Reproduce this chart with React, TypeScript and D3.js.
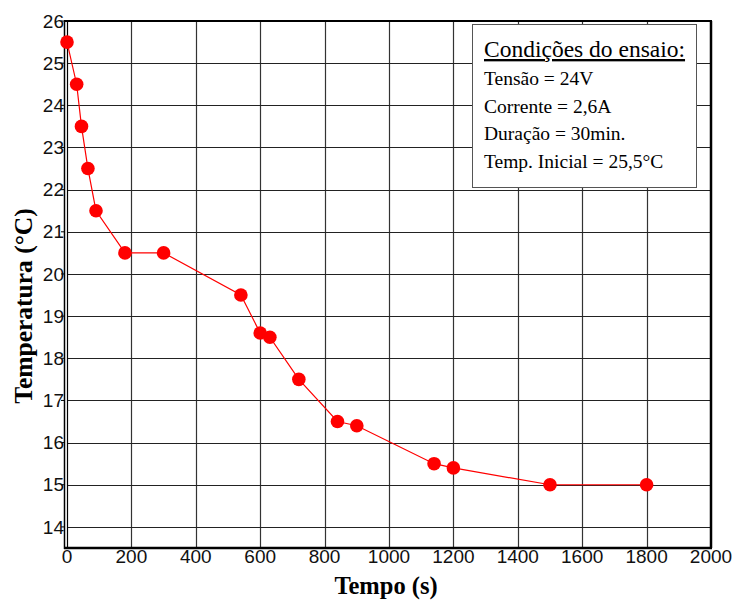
import React, { useRef, useEffect } from 'react';
import * as d3 from 'd3';

const tempo = [0, 30, 45, 65, 90, 180, 300, 540, 600, 630, 720, 840, 900, 1140, 1200, 1500, 1800];
const temperatura = [25.5, 24.5, 23.5, 22.5, 21.5, 20.5, 20.5, 19.5, 18.6, 18.5, 17.5, 16.5, 16.4, 15.5, 15.4, 15, 15];
const xTicks = [0, 200, 400, 600, 800, 1000, 1200, 1400, 1600, 1800, 2000];
const yTicks = [14, 15, 16, 17, 18, 19, 20, 21, 22, 23, 24, 25, 26];
const legendTitle = 'Condições do ensaio:';
const legendLines = ['Tensão = 24V', 'Corrente = 2,6A', 'Duração = 30min.', 'Temp. Inicial = 25,5°C'];

const App = () => {
  const svgRef = useRef(null);

  useEffect(() => {
    const width = 733;
    const height = 602;
    const left = 67, right = 711, top = 21, bottom = 548;

    const svg = d3.select(svgRef.current)
      .attr('width', width)
      .attr('height', height)
      .style('background', '#fff');
    svg.selectAll('*').remove();

    const x = d3.scaleLinear().domain([0, 2000]).range([left, right]);
    const y = d3.scaleLinear().domain([13.5, 26]).range([bottom, top]);

    // grid
    svg.append('g')
      .selectAll('line')
      .data(xTicks.filter(t => t > 0 && t < 2000))
      .enter()
      .append('line')
      .attr('x1', d => Math.round(x(d)) + 0.5)
      .attr('x2', d => Math.round(x(d)) + 0.5)
      .attr('y1', top)
      .attr('y2', bottom)
      .attr('stroke', '#333')
      .attr('stroke-width', 1.2);

    svg.append('g')
      .selectAll('line')
      .data(yTicks.filter(t => t < 26))
      .enter()
      .append('line')
      .attr('x1', left)
      .attr('x2', right)
      .attr('y1', d => Math.round(y(d)) + 0.5)
      .attr('y2', d => Math.round(y(d)) + 0.5)
      .attr('stroke', '#222')
      .attr('stroke-width', 1.2);

    // frame
    svg.append('line')
      .attr('x1', left - 2.5).attr('x2', left - 2.5)
      .attr('y1', top).attr('y2', bottom + 1)
      .attr('stroke', '#000').attr('stroke-width', 1.5);
    svg.append('line')
      .attr('x1', left + 0.5).attr('x2', left + 0.5)
      .attr('y1', top).attr('y2', bottom)
      .attr('stroke', '#000').attr('stroke-width', 1.2);
    svg.append('line')
      .attr('x1', left - 3).attr('x2', right + 1)
      .attr('y1', bottom).attr('y2', bottom)
      .attr('stroke', '#000').attr('stroke-width', 2.5);
    svg.append('line')
      .attr('x1', right).attr('x2', right)
      .attr('y1', top).attr('y2', bottom)
      .attr('stroke', '#000').attr('stroke-width', 2.5);
    svg.append('line')
      .attr('x1', left - 3).attr('x2', right + 1)
      .attr('y1', top).attr('y2', top)
      .attr('stroke', '#000').attr('stroke-width', 2);

    // y ticks + labels
    const yAxis = svg.append('g');
    yAxis.selectAll('line')
      .data(yTicks)
      .enter()
      .append('line')
      .attr('x1', left - 6)
      .attr('x2', left - 2)
      .attr('y1', d => y(d))
      .attr('y2', d => y(d))
      .attr('stroke', '#000');
    yAxis.selectAll('text')
      .data(yTicks)
      .enter()
      .append('text')
      .attr('x', left - 3)
      .attr('y', d => y(d))
      .attr('dy', '0.35em')
      .attr('text-anchor', 'end')
      .style('font-family', '"Liberation Sans", Arial, sans-serif')
      .style('font-size', '19px')
      .style('fill', '#111')
      .text(d => d);

    // x labels
    svg.append('g')
      .selectAll('text')
      .data(xTicks)
      .enter()
      .append('text')
      .attr('x', d => x(d))
      .attr('y', bottom + 15)
      .attr('text-anchor', 'middle')
      .style('font-family', '"Liberation Sans", Arial, sans-serif')
      .style('font-size', '19px')
      .style('fill', '#111')
      .text(d => d);

    // axis titles
    svg.append('text')
      .attr('x', 386)
      .attr('y', 594)
      .attr('text-anchor', 'middle')
      .style('font-family', '"Liberation Serif", "Times New Roman", serif')
      .style('font-weight', 'bold')
      .style('font-size', '24.5px')
      .text('Tempo (s)');

    svg.append('text')
      .attr('transform', 'translate(32, 306) rotate(-90)')
      .attr('text-anchor', 'middle')
      .style('font-family', '"Liberation Serif", "Times New Roman", serif')
      .style('font-weight', 'bold')
      .style('font-size', '25.5px')
      .text('Temperatura (°C)');

    // data line + markers
    const pts = tempo.map((t, i) => [t, temperatura[i]]);
    const line = d3.line()
      .x(d => x(d[0]))
      .y(d => y(d[1]));

    svg.append('path')
      .datum(pts)
      .attr('d', line)
      .attr('fill', 'none')
      .attr('stroke', '#ff0000')
      .attr('stroke-width', 1.2);

    svg.append('g')
      .selectAll('circle')
      .data(pts)
      .enter()
      .append('circle')
      .attr('cx', d => x(d[0]))
      .attr('cy', d => y(d[1]))
      .attr('r', 6.8)
      .attr('fill', '#ff0000');

    // legend box
    const lg = svg.append('g');
    lg.append('rect')
      .attr('x', 472.5)
      .attr('y', 24.5)
      .attr('width', 224)
      .attr('height', 163)
      .attr('fill', '#fff')
      .attr('stroke', '#555')
      .attr('stroke-width', 1);
    lg.append('text')
      .attr('x', 484)
      .attr('y', 57)
      .style('font-family', '"Liberation Serif", "Times New Roman", serif')
      .style('font-size', '23.5px')
      .style('text-decoration', 'underline')
      .text(legendTitle);
    lg.selectAll('text.item')
      .data(legendLines)
      .enter()
      .append('text')
      .attr('class', 'item')
      .attr('x', 484)
      .attr('y', (d, i) => 85 + i * 27.7)
      .style('font-family', '"Liberation Serif", "Times New Roman", serif')
      .style('font-size', '19.5px')
      .text(d => d);
  }, []);

  return (
    <div style={{ position: 'absolute', left: 0, top: 0 }}>
      <svg ref={svgRef}></svg>
    </div>
  );
};

export default App;
